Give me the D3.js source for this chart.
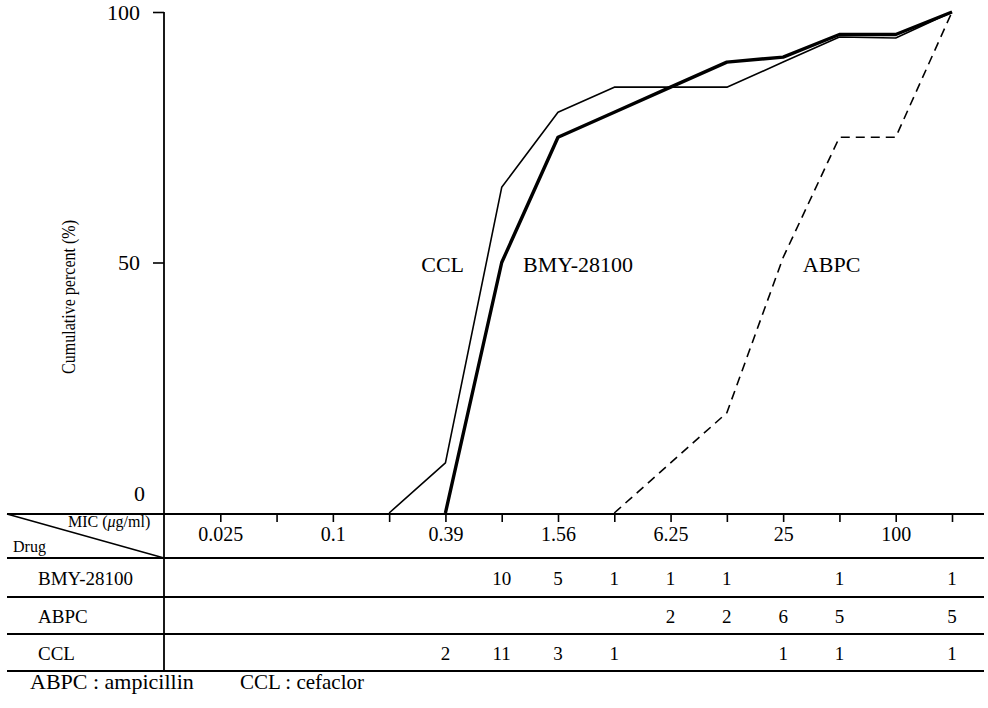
<!DOCTYPE html>
<html>
<head>
<meta charset="utf-8">
<script src="https://cdn.jsdelivr.net/npm/d3@7"></script>
<style>
  html, body { margin: 0; padding: 0; background: #fff; }
  svg { display: block; font-family: "Liberation Serif", "DejaVu Serif", serif; }
</style>
</head>
<body>
<svg id="chart" width="988" height="708"></svg>
<script>
// Two-fold MIC dilution steps (µg/ml); the last column collects strains above 100.
const micSteps = ["0.025", "0.05", "0.1", "0.2", "0.39", "0.78", "1.56", "3.13", "6.25", "12.5", "25", "50", "100", ">100"];
const labeledSteps = ["0.025", "0.1", "0.39", "1.56", "6.25", "25", "100"];
const yTicks = [0, 50, 100];

const drugs = ["BMY-28100", "ABPC", "CCL"];

// Number of strains at each MIC step (null = none)
const countsBMY  = [null, null, null, null, null, 10, 5, 1, 1, 1, null, 1, null, 1];
const countsABPC = [null, null, null, null, null, null, null, null, 2, 2, 6, 5, null, 5];
const countsCCL  = [null, null, null, null, 2, 11, 3, 1, null, null, 1, 1, null, 1];

// Cumulative percent of strains inhibited, from the first step of each curve
const cumBMY  = [["0.39", 0], ["0.78", 50], ["1.56", 75], ["3.13", 80], ["6.25", 85], ["12.5", 90], ["25", 91], ["50", 95.5], ["100", 95.5], [">100", 100]];
const cumCCL  = [["0.2", 0], ["0.39", 10], ["0.78", 65], ["1.56", 80], ["3.13", 85], ["6.25", 85], ["12.5", 85], ["25", 90], ["50", 95], ["100", 94.8], [">100", 100]];
const cumABPC = [["3.13", 0], ["6.25", 10], ["12.5", 20], ["25", 51], ["50", 75], ["100", 75], [">100", 100]];

const FONT = "'Liberation Serif', 'DejaVu Serif', serif";
const svg = d3.select("#chart");
svg.append("rect").attr("width", 988).attr("height", 708).attr("fill", "#fff");

const idx = s => micSteps.indexOf(s);
const x = d3.scaleLinear().domain([-1, micSteps.length - 1]).range([164, 952]);
const y = d3.scaleLinear().domain([0, 100]).range([513, 12]);

// Table geometry
const tableLeft = 7, tableRight = 984;
const rowLines = [514, 558, 597, 634, 671];

// Y axis
const yAxis = d3.axisLeft(y).tickValues(yTicks).tickSize(11).tickPadding(11).tickFormat(d3.format("d"));
const gy = svg.append("g").attr("transform", "translate(164,0)").call(yAxis)
  .attr("font-family", FONT);
gy.select(".domain").remove();
gy.selectAll(".tick line").attr("stroke", "#000").attr("stroke-width", 1.6)
  .filter(d => d === 0).remove();
gy.selectAll(".tick text")
  .attr("font-size", 22).attr("fill", "#000")
  .attr("dy", d => d === 0 ? "-0.55em" : "0.34em")
  .attr("x", d => d === 0 ? -19 : -24);

// Vertical axis line continuing through the table
svg.append("line").attr("x1", 164).attr("x2", 164).attr("y1", y(100)).attr("y2", rowLines[4])
  .attr("stroke", "#000").attr("stroke-width", 1.8);

// Y axis title (set in a slightly condensed width)
svg.append("text")
  .attr("transform", "translate(75,297) rotate(-90)")
  .attr("text-anchor", "middle")
  .attr("font-size", 19)
  .attr("textLength", 154)
  .attr("lengthAdjust", "spacingAndGlyphs")
  .text("Cumulative percent (%)");

// Table horizontal rules
svg.append("g").selectAll("line").data(rowLines).join("line")
  .attr("x1", tableLeft).attr("x2", tableRight)
  .attr("y1", d => d).attr("y2", d => d)
  .attr("stroke", "#000").attr("stroke-width", 1.8);

// X axis ticks (hanging down into the header row) and MIC labels
const xAxis = d3.axisBottom(x)
  .tickValues(micSteps.map((s, i) => i))
  .tickSize(8)
  .tickFormat(i => labeledSteps.includes(micSteps[i]) ? micSteps[i] : "");
const gx = svg.append("g").attr("transform", "translate(0,514)").call(xAxis)
  .attr("font-family", FONT);
gx.select(".domain").remove();
gx.selectAll(".tick line").attr("stroke", "#000").attr("stroke-width", 1.6);
gx.selectAll(".tick text").attr("font-size", 20).attr("fill", "#000").attr("y", 27).attr("dy", 0);

// Header cell: diagonal split with MIC / Drug
svg.append("line").attr("x1", tableLeft).attr("y1", rowLines[0]).attr("x2", 164).attr("y2", rowLines[1])
  .attr("stroke", "#000").attr("stroke-width", 1.5);
const mic = svg.append("text").attr("x", 68).attr("y", 527).attr("font-size", 16);
mic.append("tspan").text("MIC (");
mic.append("tspan").attr("font-style", "italic").text("\u03bc");
mic.append("tspan").text("g/ml)");
svg.append("text").attr("x", 13).attr("y", 552).attr("font-size", 16).text("Drug");

// Drug rows with strain counts
const rowCounts = [countsBMY, countsABPC, countsCCL];
drugs.forEach((name, r) => {
  const mid = (rowLines[r + 1] + rowLines[r + 2]) / 2;
  svg.append("text").attr("x", 38).attr("y", mid + 7).attr("font-size", 19).text(name);
  svg.append("g").selectAll("text")
    .data(rowCounts[r].map((c, i) => ({ c, i })).filter(d => d.c !== null))
    .join("text")
    .attr("x", d => x(d.i)).attr("y", mid + 7)
    .attr("text-anchor", "middle").attr("font-size", 19)
    .text(d => d.c);
});

// Cumulative curves
const line = d3.line().x(d => x(idx(d[0]))).y(d => y(d[1]));
svg.append("path").datum(cumCCL).attr("d", line)
  .attr("fill", "none").attr("stroke", "#000").attr("stroke-width", 1.6).attr("stroke-linejoin", "round");
svg.append("path").datum(cumBMY).attr("d", line)
  .attr("fill", "none").attr("stroke", "#000").attr("stroke-width", 3.4).attr("stroke-linejoin", "round");
svg.append("path").datum(cumABPC).attr("d", line)
  .attr("fill", "none").attr("stroke", "#000").attr("stroke-width", 1.6).attr("stroke-dasharray", "9,6");

// Curve labels
const curveLabels = [
  { text: "CCL", at: 3.95, anchor: "middle" },
  { text: "BMY-28100", at: 5.38, anchor: "start" },
  { text: "ABPC", at: 10.35, anchor: "start" }
];
svg.append("g").selectAll("text").data(curveLabels).join("text")
  .attr("x", d => x(d.at)).attr("y", y(50) + 9)
  .attr("text-anchor", d => d.anchor).attr("font-size", 22)
  .text(d => d.text);

// Abbreviation note
svg.append("text").attr("x", 30).attr("y", 689).attr("font-size", 22)
  .text("ABPC : ampicillin");
svg.append("text").attr("x", 240).attr("y", 689).attr("font-size", 21)
  .text("CCL : cefaclor");
</script>
</body>
</html>
